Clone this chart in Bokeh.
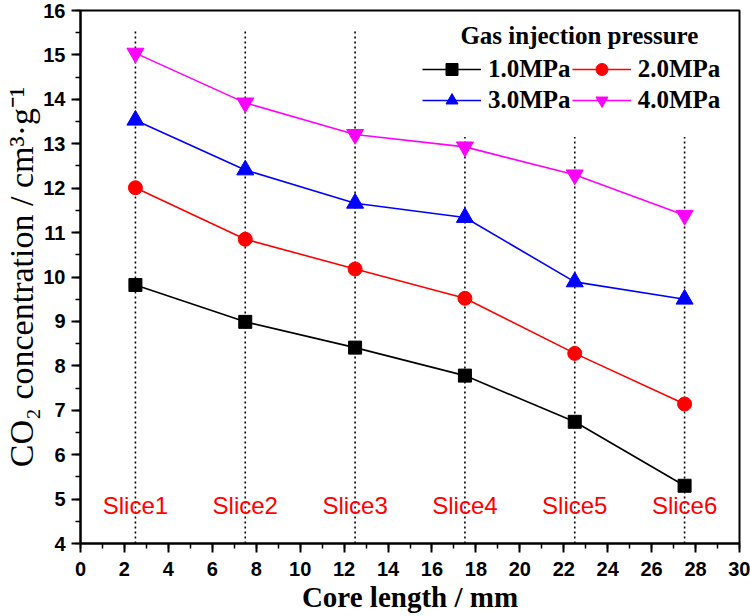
from bokeh.plotting import figure
from bokeh.models import (Range1d, SingleIntervalTicker, Legend, LegendItem,
                          Label, ColumnDataSource)
from bokeh.embed import file_html
from bokeh.resources import INLINE
from bokeh.core.properties import value

# Slice centre positions along the core (mm)
core_length = [2.5, 7.5, 12.5, 17.5, 22.5, 27.5]
slice_names = ["Slice1", "Slice2", "Slice3", "Slice4", "Slice5", "Slice6"]

# CO2 concentration (cm3/g) for each gas injection pressure
conc_1mpa = [9.82, 8.99, 8.41, 7.78, 6.74, 5.30]
conc_2mpa = [12.01, 10.85, 10.18, 9.52, 8.28, 7.14]
conc_3mpa = [13.53, 12.41, 11.66, 11.34, 9.89, 9.50]
conc_4mpa = [15.04, 13.92, 13.21, 12.93, 12.30, 11.39]

series_labels = ["1.0MPa", "2.0MPa", "3.0MPa", "4.0MPa"]

# upper end of the dotted slice guides (kept clear of the legend)
guide_top = [15.56, 15.56, 15.56, 13.15, 13.15, 13.15]

SERIF = "Liberation Serif"
SANS = "Liberation Sans"

p = figure(width=750, height=616, output_backend="svg", toolbar_location=None,
           x_range=Range1d(0, 30), y_range=Range1d(4, 16),
           min_border_left=80, min_border_right=11, min_border_top=10,
           min_border_bottom=73)
p.xgrid.visible = False
p.ygrid.visible = False
p.outline_line_color = "black"
p.outline_line_width = 2
p.background_fill_color = "white"
p.border_fill_color = "white"

xax = p.xaxis[0]
yax = p.yaxis[0]
xax.ticker = SingleIntervalTicker(interval=2, num_minor_ticks=2)
yax.ticker = SingleIntervalTicker(interval=1, num_minor_ticks=2)
for ax in (xax, yax):
    ax.axis_line_width = 2
    ax.axis_line_color = "black"
    ax.major_tick_line_width = 2
    ax.minor_tick_line_width = 1.5
    ax.major_tick_in = 0
    ax.major_tick_out = 9
    ax.minor_tick_in = 0
    ax.minor_tick_out = 5
    ax.major_label_text_font = SANS
    ax.major_label_text_font_style = "bold"
    ax.major_label_text_font_size = "20px"
    ax.major_label_text_color = "black"
    ax.axis_label_text_font = SERIF
    ax.axis_label_text_color = "black"
xax.axis_label = "Core length / mm"
xax.axis_label_text_font_style = "bold"
xax.axis_label_text_font_size = "29px"
xax.axis_label_standoff = 2
xax.major_label_standoff = 9
yax.axis_label = "CO\u2082 concentration / cm\u00b3\u00b7g\u207b\u00b9"
yax.axis_label_text_font_style = "normal"
yax.axis_label_text_font_size = "34px"
yax.axis_label_standoff = 0
yax.major_label_standoff = 6

# dotted slice guides
p.segment(x0=core_length, y0=[4] * len(core_length), x1=core_length, y1=guide_top,
          line_color="black", line_width=1.6, line_dash="2 3")

# slice names
p.text(x=core_length, y=[4.86] * len(core_length), text=slice_names,
       text_color="red", text_font=value(SANS), text_font_size="24px",
       text_align="center", text_baseline="middle")

styles = [
    (conc_1mpa, "black", "square", 13),
    (conc_2mpa, "red", "circle", 14),
    (conc_3mpa, "blue", "triangle", 17),
    (conc_4mpa, "magenta", "inverted_triangle", 17),
]
items = []
for (vals, color, marker, size), lab in zip(styles, series_labels):
    src = ColumnDataSource(dict(x=core_length, y=vals))
    ln = p.line("x", "y", source=src, line_color=color, line_width=1.6)
    sc = p.scatter("x", "y", source=src, marker=marker, size=size,
                   fill_color=color, line_color=color)
    items.append(LegendItem(label=lab, renderers=[ln, sc]))

legend = Legend(items=items, orientation="horizontal", nrows=2,
                location=(338, 424),
                label_text_font=SERIF, label_text_font_style="bold",
                label_text_font_size="25px", label_text_color="black",
                glyph_width=59, glyph_height=30, label_standoff=7,
                spacing=1, padding=4, margin=0,
                border_line_alpha=0, background_fill_alpha=0)
p.add_layout(legend, "center")

p.add_layout(Label(x=22.71, y=15.43, text="Gas injection pressure",
                   text_font=SERIF, text_font_style="bold",
                   text_font_size="25px", text_color="black",
                   text_align="center", text_baseline="middle"))

open("out.html", "w").write(file_html(p, INLINE))
